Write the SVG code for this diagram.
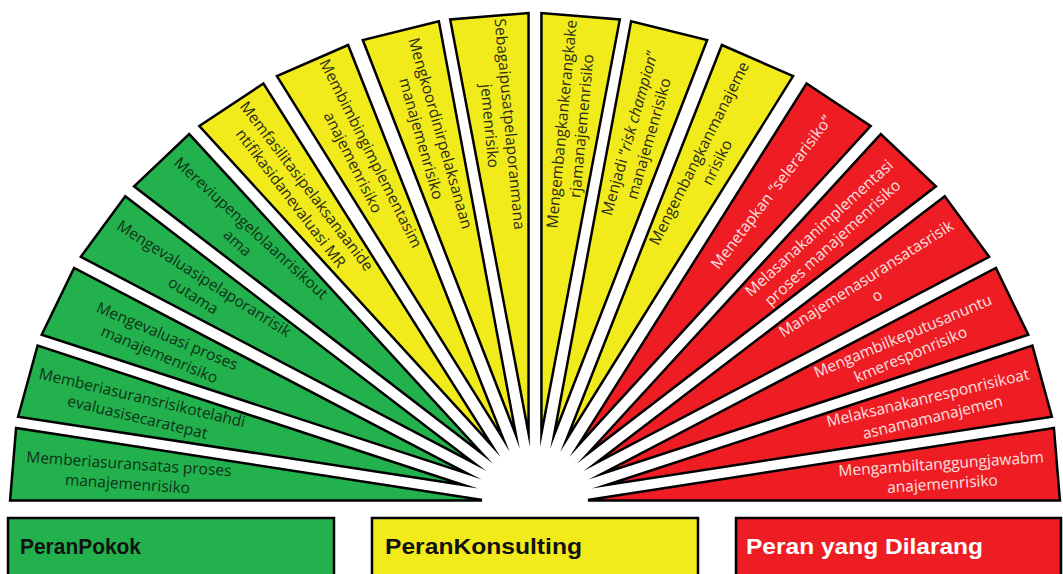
<svg xmlns="http://www.w3.org/2000/svg" width="1063" height="574" viewBox="0 0 1063 574">
<defs>
<path id="w" vector-effect="non-scaling-stroke" d="M68.84,0 L487.63,-36.64 L487.63,36.64 Z"/>
<path id="w0" vector-effect="non-scaling-stroke" d="M-45.79,-1.5 L-489,-1.5 L-483.38,-73.94 Z"/>
</defs>
<style>
.wd{stroke:#000;stroke-width:2.5;stroke-linejoin:miter;stroke-miterlimit:20}
.g{fill:#22B14C}
.y{fill:#F2EB1C}
.r{fill:#EE1D24}
.t{font-family:"Open Sans","Liberation Sans",sans-serif;font-size:15.5px;text-anchor:middle}
.tg{fill:#0f3319}
.ty{fill:#2a2a14}
.tr{fill:#fbe0e0}
.lg{fill:none;stroke:#000;stroke-width:2.5}
.lt{font-family:"Liberation Sans",Arial,sans-serif;font-weight:bold;font-size:22px}
</style>
<rect width="1063" height="574" fill="#fff"/>
<g id="n1"><use href="#w0" class="wd g" transform="translate(535,502) scale(1.0735,1)"/>
<text class="t tg" transform="translate(128.2,474.2) rotate(3.91)"><tspan x="0" y="-5">Memberiasuransatas proses</tspan><tspan x="0" y="15">manajemenrisiko</tspan></text></g>
<g id="n2"><use href="#w" class="wd g" transform="translate(535,502) scale(1.0735,1) rotate(-165.65)"/>
<text class="t tg" transform="translate(139.8,407.8) rotate(13.4)"><tspan x="0" y="-5">Memberiasuransrisikotelahdi</tspan><tspan x="0" y="15">evaluasisecaratepat</tspan></text></g>
<g id="n3"><use href="#w" class="wd g" transform="translate(535,502) scale(1.0735,1) rotate(-155.7)"/>
<text class="t tg" transform="translate(163.2,345.6) rotate(22.81)"><tspan x="0" y="-5">Mengevaluasi proses</tspan><tspan x="0" y="15">manajemenrisiko</tspan></text></g>
<g id="n4"><use href="#w" class="wd g" transform="translate(535,502) scale(1.0735,1) rotate(-145.6)"/>
<text class="t tg" transform="translate(198.4,287.3) rotate(32.53)"><tspan x="0" y="-5">Mengevaluasipelaporanrisik</tspan><tspan x="0" y="15">outama</tspan></text></g>
<g id="n5"><use href="#w" class="wd g" transform="translate(535,502) scale(1.0735,1) rotate(-135.5)"/>
<text class="t tg" transform="translate(244,235.7) rotate(42.47)"><tspan x="0" y="-5">Mereviupengelolaanrisikout</tspan><tspan x="0" y="15">ama</tspan></text></g>
<g id="n6"><use href="#w" class="wd y" transform="translate(535,502) scale(1.0735,1) rotate(-125.45)"/>
<text class="t ty" transform="translate(298.4,192.4) rotate(52.61)"><tspan x="0" y="-5">Memfasilitasipelaksanaanide</tspan><tspan x="0" y="15">ntifikasidanevaluasi MR</tspan></text></g>
<g id="n7"><use href="#w" class="wd y" transform="translate(535,502) scale(1.0735,1) rotate(-115.15)"/>
<text class="t ty" transform="translate(361.6,158) rotate(63.27)"><tspan x="0" y="-5">Membimbingimplementasim</tspan><tspan x="0" y="15">anajemenrisiko</tspan></text></g>
<g id="n8"><use href="#w" class="wd y" transform="translate(535,502) scale(1.0735,1) rotate(-104.85)"/>
<text class="t ty" transform="translate(430.5,136) rotate(74.11)"><tspan x="0" y="-5">Mengkoordinirpelaksanaan</tspan><tspan x="0" y="15">manajemenrisiko</tspan></text></g>
<g id="n9"><use href="#w" class="wd y" transform="translate(535,502) scale(1.0735,1) rotate(-95)"/>
<text class="t ty" transform="translate(499.4,125) rotate(84.64)"><tspan x="0" y="-5">Sebagaipusatpelaporanmana</tspan><tspan x="0" y="15">jemenrisiko</tspan></text></g>
<g id="n10"><use href="#w" class="wd y" transform="translate(535,502) scale(1.0735,1) rotate(-85)"/>
<text class="t ty" transform="translate(572,125) rotate(-84.64)"><tspan x="0" y="-5">Mengembangkankerangkake</tspan><tspan x="0" y="15">rjamanajemenrisiko</tspan></text></g>
<g id="n11"><use href="#w" class="wd y" transform="translate(535,502) scale(1.0735,1) rotate(-75.15)"/>
<text class="t ty" transform="translate(639.5,136) rotate(-74.11)"><tspan x="0" y="-5">Menjadi “<tspan font-style="italic">risk champion</tspan>”</tspan><tspan x="0" y="15">manajemenrisiko</tspan></text></g>
<g id="n12"><use href="#w" class="wd y" transform="translate(535,502) scale(1.0735,1) rotate(-64.85)"/>
<text class="t ty" transform="translate(708.4,158) rotate(-63.27)"><tspan x="0" y="-5">Mengembangkanmanajeme</tspan><tspan x="0" y="15">nrisiko</tspan></text></g>
<g id="n13"><use href="#w" class="wd r" transform="translate(535,502) scale(1.0735,1) rotate(-54.55)"/>
<text class="t tr" transform="translate(771.6,192.4) rotate(-52.61)"><tspan x="0" y="5">Menetapkan “selerarisiko”</tspan></text></g>
<g id="n14"><use href="#w" class="wd r" transform="translate(535,502) scale(1.0735,1) rotate(-44.5)"/>
<text class="t tr" transform="translate(826,235.7) rotate(-42.47)"><tspan x="0" y="-5">Melasanakanimplementasi</tspan><tspan x="0" y="15">proses manajemenrisiko</tspan></text></g>
<g id="n15"><use href="#w" class="wd r" transform="translate(535,502) scale(1.0735,1) rotate(-34.4)"/>
<text class="t tr" transform="translate(871.6,287.3) rotate(-32.53)"><tspan x="0" y="-5">Manajemenasuransatasrisik</tspan><tspan x="0" y="15">o</tspan></text></g>
<g id="n16"><use href="#w" class="wd r" transform="translate(535,502) scale(1.0735,1) rotate(-24.3)"/>
<text class="t tr" transform="translate(906.8,345.6) rotate(-22.81)"><tspan x="0" y="-5">Mengambilkeputusanuntu</tspan><tspan x="0" y="15">kmeresponrisiko</tspan></text></g>
<g id="n17"><use href="#w" class="wd r" transform="translate(535,502) scale(1.0735,1) rotate(-14.35)"/>
<text class="t tr" transform="translate(930.2,407.8) rotate(-13.4)"><tspan x="0" y="-5">Melaksanakanresponrisikoat</tspan><tspan x="0" y="15">asnamamanajemen</tspan></text></g>
<g id="n18"><use href="#w0" class="wd r" transform="translate(535,502) scale(-1.0735,1)"/>
<text class="t tr" transform="translate(941.8,474.2) rotate(-3.91)"><tspan x="0" y="-5">Mengambiltanggungjawabm</tspan><tspan x="0" y="15">anajemenrisiko</tspan></text></g>
<ellipse id="hub" cx="535" cy="503" rx="53" ry="50" fill="#fff"/>
<g id="connectors"></g>
<g id="legend-pokok"><rect x="8" y="518" width="326" height="70" class="lg" style="fill:#22B14C"/>
<text class="lt" x="20" y="554" fill="#111" textLength="121" lengthAdjust="spacingAndGlyphs">PeranPokok</text></g>
<g id="legend-konsulting"><rect x="372" y="518" width="326" height="70" class="lg" style="fill:#F2EB1C"/>
<text class="lt" x="385" y="554" fill="#111" textLength="197" lengthAdjust="spacingAndGlyphs">PeranKonsulting</text></g>
<g id="legend-dilarang"><rect x="736" y="518" width="325" height="70" class="lg" style="fill:#EE1D24"/>
<text class="lt" x="746" y="554" fill="#fff" textLength="237" lengthAdjust="spacingAndGlyphs">Peran yang Dilarang</text></g>
</svg>
